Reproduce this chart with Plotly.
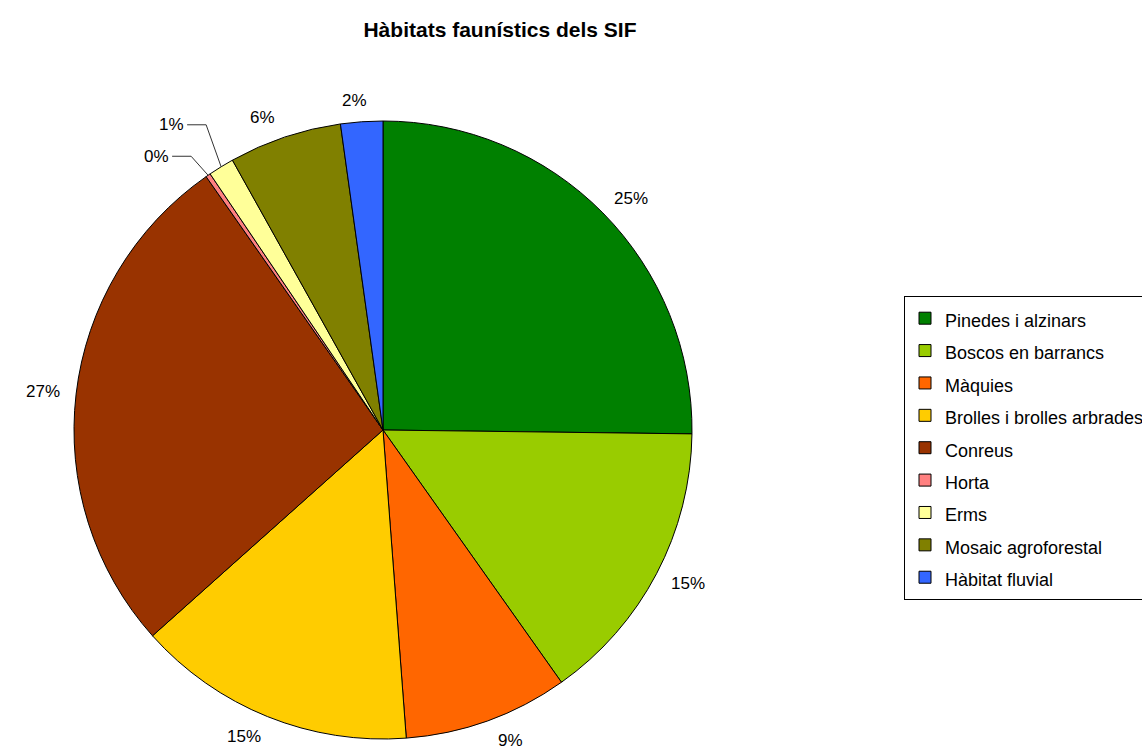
import math
import plotly.graph_objects as go

# Habitat shares (percent of the SIF area)
habitats = [
    "Pinedes i alzinars",
    "Boscos en barrancs",
    "Màquies",
    "Brolles i brolles arbrades",
    "Conreus",
    "Horta",
    "Erms",
    "Mosaic agroforestal",
    "Hàbitat fluvial",
]
shares = [25.2, 15.0, 8.6, 14.6, 26.9, 0.25, 1.35, 5.9, 2.2]
colors = [
    "#008000", "#99CC00", "#FF6600", "#FFCC00", "#993300",
    "#FF8080", "#FFFF99", "#808000", "#3366FF",
]

W, H = 1142, 750
CX, CY, R = 383, 430, 309          # pie centre and radius in pixels
LABEL_R_X, LABEL_R_Y = 325, 330      # radial placement of percentage labels
LABEL_HALF_W = 17                    # half width of a label box
# small slices get a call-out: elbow offset (px) from the slice edge
CALLOUTS = {"Horta": (-17, -19), "Erms": (-15, -42)}
CALLOUT_RUN = 19
FONT = "Liberation Sans, Arial, sans-serif"
LABEL_SIZE = 17
LEGEND_TEXT_SIZE = 18
LEGEND_ROW = 22.6                    # sets the row pitch of the legend


def px(x):
    return x / W


def py(y):
    return 1 - y / H


legend_names = [
    f'<span style="font-size:{LEGEND_TEXT_SIZE}px">{h}</span>' for h in habitats
]

fig = go.Figure(
    go.Pie(
        labels=legend_names,
        values=shares,
        sort=False,
        direction="clockwise",
        rotation=0,
        textinfo="none",
        marker=dict(colors=colors, line=dict(color="black", width=1)),
        domain=dict(x=[px(CX - R), px(CX + R)], y=[py(CY + R), py(CY - R)]),
        hovertemplate="%{label}: %{percent:.0%}<extra></extra>",
    )
)

total = sum(shares)
annotations = []
shapes = []
cum = 0.0
for name, v in zip(habitats, shares):
    theta = 2 * math.pi * (cum + v / 2) / total
    cum += v
    s, c = math.sin(theta), math.cos(theta)
    pct = f"{round(100 * v / total):.0f}%"
    if name in CALLOUTS:
        ex, ey = CX + R * s, CY - R * c
        ox, oy = CALLOUTS[name]
        bx, by = ex + ox, ey + oy
        tx = bx - CALLOUT_RUN
        shapes.append(dict(
            type="path", xref="paper", yref="paper",
            path=f"M{px(ex)},{py(ey)} L{px(bx)},{py(by)} L{px(tx)},{py(by)}",
            line=dict(color="#333333", width=1),
        ))
        annotations.append(dict(
            x=px(tx - 1), y=py(by), xref="paper", yref="paper",
            text=pct, showarrow=False, xanchor="right", yanchor="middle",
            font=dict(size=LABEL_SIZE, color="black", family=FONT),
        ))
    else:
        shift = LABEL_HALF_W * max(-1.0, min(1.0, 5 * s))
        lx = CX + LABEL_R_X * s + shift
        ly = CY - LABEL_R_Y * c
        annotations.append(dict(
            x=px(lx), y=py(ly), xref="paper", yref="paper",
            text=pct, showarrow=False, xanchor="center", yanchor="middle",
            font=dict(size=LABEL_SIZE, color="black", family=FONT),
        ))

fig.update_layout(
    width=W,
    height=H,
    margin=dict(l=0, r=0, t=0, b=0, autoexpand=False),
    paper_bgcolor="white",
    plot_bgcolor="white",
    font=dict(family=FONT, color="black"),
    title=dict(
        text="<b>Hàbitats faunístics dels SIF</b>",
        x=px(500), y=py(30), xanchor="center", yanchor="middle",
        font=dict(size=21, family=FONT, color="black"),
    ),
    legend=dict(
        x=px(904), y=py(296), xanchor="left", yanchor="top",
        bordercolor="black", borderwidth=1, bgcolor="white",
        font=dict(size=LEGEND_ROW, family=FONT, color="black"),
        traceorder="normal",
    ),
    annotations=annotations,
    shapes=shapes,
)

fig.write_html("out.html")
